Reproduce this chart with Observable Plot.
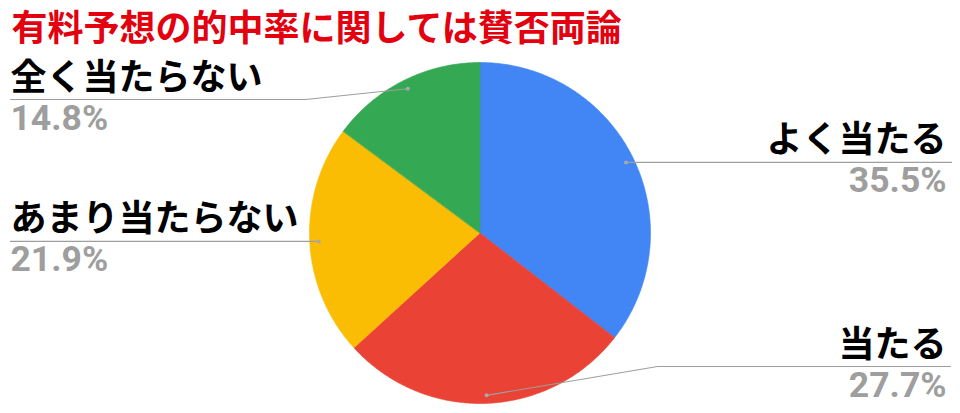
<!DOCTYPE html>
<html>
<head>
<meta charset="utf-8">
<script src="https://cdn.jsdelivr.net/npm/d3@7"></script>
<script src="https://cdn.jsdelivr.net/npm/@observablehq/plot@0.6"></script>
<style>
  html, body { margin: 0; padding: 0; background: #fff; }
  #chart svg { display: block; }
</style>
</head>
<body>
<div id="chart"></div>
<script>
// ---- data ----
const title = "有料予想の的中率に関しては賛否両論";
const categories = ["よく当たる", "当たる", "あまり当たらない", "全く当たらない"];
const shares = [35.5, 27.7, 21.9, 14.8];
const percentLabels = ["35.5%", "27.7%", "21.9%", "14.8%"];
const colors = ["#4285F4", "#EA4335", "#FBBC04", "#34A853"];

// ---- layout (pixels) ----
const W = 960, H = 413;
const cx = 480, cy = 233, R = 170.5;
const anchorFrac = 0.95;
// per category: side, label line y (null = anchor y), optional elbow, end x
const layout = [
  {side: "right", lineY: null, elbowX: null, endX: 951, textX: 946},
  {side: "right", lineY: 366, elbowX: 657, endX: 950, textX: 946},
  {side: "left",  lineY: null, elbowX: null, endX: 10, textX: 10},
  {side: "left",  lineY: 99,  elbowX: 305, endX: 10, textX: 10}
];

const FONT_JP = "'Noto Sans CJK JP', 'Noto Sans', sans-serif";
const FONT_NUM = "Roboto, 'Noto Sans CJK JP', sans-serif";
const JP_SIZE = 36;
const NUM_SIZE = 35.5;

const arcs = d3.pie().sort(null).value(d => d)(shares);

// slice outlines
const sliceRows = [];
arcs.forEach((a, i) => {
  const n = Math.max(2, Math.ceil((a.endAngle - a.startAngle) / (Math.PI / 360)));
  for (let k = 0; k <= n; k++) {
    const t = a.startAngle + (a.endAngle - a.startAngle) * k / n;
    sliceRows.push({key: categories[i], x1: cx, y1: cy, x2: cx + R * Math.sin(t), y2: cy - R * Math.cos(t)});
  }
});

// anchors
const anchors = arcs.map((a, i) => {
  const m = (a.startAngle + a.endAngle) / 2;
  return {key: categories[i], x: cx + anchorFrac * R * Math.sin(m), y: cy - anchorFrac * R * Math.cos(m)};
});

// leader lines
const leaderRows = [];
const labelRows = [];
anchors.forEach((p, i) => {
  const L = layout[i];
  const ly = L.lineY == null ? p.y : L.lineY;
  leaderRows.push({key: p.key, x: p.x, y: p.y});
  if (L.elbowX != null) leaderRows.push({key: p.key, x: L.elbowX, y: ly});
  leaderRows.push({key: p.key, x: L.endX, y: ly});
  labelRows.push({name: categories[i], pct: percentLabels[i], x: L.textX, nameY: ly - 10, pctY: ly + 30, anchor: L.side === "right" ? "end" : "start"});
});

const chart = Plot.plot({
  width: W,
  height: H,
  margin: 0,
  x: {domain: [0, W], range: [0, W], axis: null},
  y: {domain: [0, H], range: [0, H], axis: null},
  color: {domain: categories, range: colors},
  style: {background: "#fff", overflow: "visible"},
  marks: [
    Plot.area(sliceRows, {x1: "x1", y1: "y1", x2: "x2", y2: "y2", z: "key", fill: "key", stroke: "key", strokeWidth: 0.6, curve: "linear"}),
    Plot.line(leaderRows, {x: "x", y: "y", z: "key", stroke: "#9e9e9e", strokeWidth: 1.2, curve: "linear"}),
    Plot.dot(anchors, {x: "x", y: "y", r: 2, fill: "#a8a8a8", stroke: "none"}),
    Plot.text(labelRows.filter(d => d.anchor === "end"), {x: "x", y: "nameY", text: "name", textAnchor: "end", lineAnchor: "bottom", fontSize: JP_SIZE, fontWeight: "bold", fill: "#000", fontFamily: FONT_JP}),
    Plot.text(labelRows.filter(d => d.anchor === "start"), {x: "x", y: "nameY", text: "name", textAnchor: "start", lineAnchor: "bottom", fontSize: JP_SIZE, fontWeight: "bold", fill: "#000", fontFamily: FONT_JP}),
    Plot.text(labelRows.filter(d => d.anchor === "end"), {x: "x", y: "pctY", text: "pct", textAnchor: "end", lineAnchor: "bottom", fontSize: NUM_SIZE, fontWeight: "bold", fill: "#9e9e9e", fontFamily: FONT_NUM}),
    Plot.text(labelRows.filter(d => d.anchor === "start"), {x: "x", y: "pctY", text: "pct", textAnchor: "start", lineAnchor: "bottom", fontSize: NUM_SIZE, fontWeight: "bold", fill: "#9e9e9e", fontFamily: FONT_NUM}),
    Plot.text([title], {frameAnchor: "top-left", dx: 11, dy: 40, text: d => d, textAnchor: "start", lineAnchor: "bottom", fontSize: JP_SIZE, fontWeight: "bold", fill: "#e3000f", fontFamily: FONT_JP})
  ]
});

document.getElementById("chart").appendChild(chart);
</script>
</body>
</html>
